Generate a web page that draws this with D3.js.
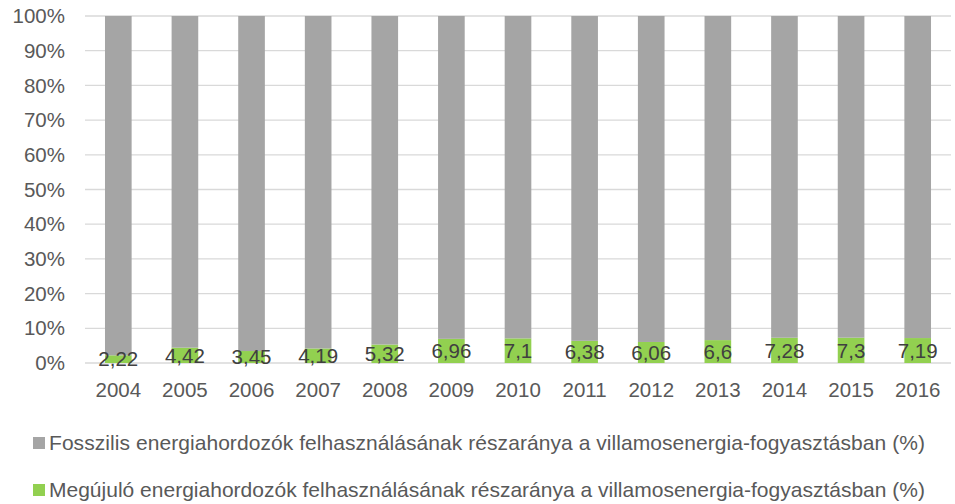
<!DOCTYPE html>
<html><head><meta charset="utf-8">
<script src="https://cdn.jsdelivr.net/npm/d3@7"></script>
<style>body{margin:0;background:#fff}svg{display:block;font-family:"Liberation Sans",Arial,sans-serif}</style>
</head><body><svg id="c" width="955" height="504"></svg>
<script>
const years = ["2004","2005","2006","2007","2008","2009","2010","2011","2012","2013","2014","2015","2016"];
const renewable = [2.22,4.42,3.45,4.19,5.32,6.96,7.1,6.38,6.06,6.6,7.28,7.3,7.19];
const fossil = [97.78,95.58,96.55,95.81,94.68,93.04,92.9,93.62,93.94,93.4,92.72,92.7,92.81];
const renewableLabels = ["2,22","4,42","3,45","4,19","5,32","6,96","7,1","6,38","6,06","6,6","7,28","7,3","7,19"];
const yTicks = [0,10,20,30,40,50,60,70,80,90,100];
const seriesNames = ["Fosszilis energiahordozók felhasználásának részaránya a villamosenergia-fogyasztásban (%)",
  "Megújuló energiahordozók felhasználásának részaránya a villamosenergia-fogyasztásban (%)"];
const colors = ["#A5A5A5","#92D050"];

const svg = d3.select("#c");
const L=85,R=951,T=16,B=363;
const FS=20.5;
const x = d3.scaleBand().domain(years).range([L,R]).paddingInner(0.6).paddingOuter(0.3);
const y = d3.scaleLinear().domain([0,100]).range([B,T]);

// grid
svg.append("g").selectAll("line").data(yTicks).join("line")
  .attr("x1",L).attr("x2",R).attr("y1",d=>y(d)).attr("y2",d=>y(d))
  .attr("stroke","#D9D9D9").attr("stroke-width",1.3);

// y labels
svg.append("g").selectAll("text").data(yTicks).join("text")
  .attr("x",65).attr("y",d=>y(d)).attr("dy","0.35em").attr("text-anchor","end")
  .attr("font-size",FS).attr("fill","#595959").text(d=>d+"%");

const stackData = years.map((yr,i)=>({year:yr, ren:renewable[i], fos:fossil[i]}));
const stack = d3.stack().keys(["ren","fos"])(stackData);

svg.append("g").selectAll("g").data(stack).join("g")
  .attr("fill",(d,i)=>colors[i===0?1:0])
  .selectAll("rect").data(d=>d).join("rect")
  .attr("x",d=>x(d.data.year)).attr("width",x.bandwidth())
  .attr("y",d=>y(d[1])).attr("height",d=>y(d[0])-y(d[1]));

// data labels
svg.append("g").selectAll("text").data(stackData).join("text")
  .attr("x",d=>x(d.year)+x.bandwidth()/2).attr("y",d=>y(d.ren/2)).attr("dy","0.35em")
  .attr("text-anchor","middle").attr("font-size",FS).attr("fill","#404040")
  .text((d,i)=>renewableLabels[i]);

// x labels
svg.append("g").selectAll("text").data(years).join("text")
  .attr("x",d=>x(d)+x.bandwidth()/2).attr("y",397).attr("text-anchor","middle")
  .attr("font-size",FS).attr("fill","#595959").text(d=>d);

// legend
const leg = svg.append("g").selectAll("g").data(seriesNames).join("g")
  .attr("transform",(d,i)=>`translate(33,${443+i*47})`);
leg.append("rect").attr("x",0).attr("y",-6).attr("width",12).attr("height",12)
  .attr("fill",(d,i)=>colors[i]);
leg.append("text").attr("x",16).attr("y",0).attr("dy","0.35em").attr("font-size",21)
  .attr("textLength",876).attr("lengthAdjust","spacing")
  .attr("fill","#595959").text(d=>d);
</script></body></html>
